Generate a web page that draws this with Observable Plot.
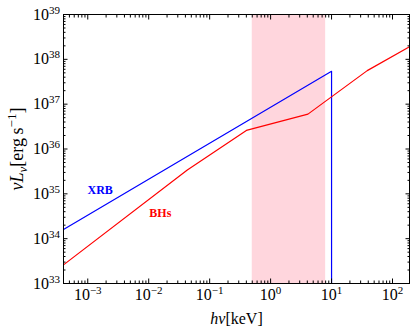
<!DOCTYPE html>
<html><head><meta charset="utf-8">
<script src="https://cdn.jsdelivr.net/npm/d3@7"></script>
<script src="https://cdn.jsdelivr.net/npm/@observablehq/plot@0.6"></script>
<style>
body{margin:0;background:#fff;}
#chart svg{display:block;}
</style></head><body><div id="chart"></div>
<script>
// ---- data ----
const xrbEnergy = [4e-4, 10, 10];
const xrbLum = [1.6e34, 5.4e37, 1e33];
const bhEnergy = [4e-4, 0.043, 0.40, 4.1, 38.5, 190];
const bhLum = [2.6e33, 3.4e35, 2.6e36, 6.0e36, 5.6e37, 1.9e38];
const bandEnergy = [0.5, 8];
const seriesNames = ["XRB", "BHs"];
const seriesColors = ["#0000ff", "#ff0000"];
const labelEnergy = [1.6e-3, 1.55e-2];
const labelLum = [1.2e35, 3.8e34];
const xDomain = [4e-4, 190];
const yDomain = [1e33, 1e39];
const xMajorTicks = [1e-3, 1e-2, 1e-1, 1, 10, 100];
const xTickBase = ["10", "10", "10", "10", "10", "10"];
const xTickExp = ["−3", "−2", "−1", "0", "1", "2"];
const yMajorTicks = [1e33, 1e34, 1e35, 1e36, 1e37, 1e38, 1e39];
const yTickBase = ["10", "10", "10", "10", "10", "10", "10"];
const yTickExp = ["33", "34", "35", "36", "37", "38", "39"];
const xLabel = "hν[keV]";
const yLabel = "νLν[erg s−1]";

// ---- tables built from the arrays ----
const xrb = xrbEnergy.map((e, i) => ({e, L: xrbLum[i]}));
const bh = bhEnergy.map((e, i) => ({e, L: bhLum[i]}));
const labels = seriesNames.map((name, i) => ({name, e: labelEnergy[i], L: labelLum[i], color: seriesColors[i]}));
const isPow = t => Math.abs(Math.log10(t) - Math.round(Math.log10(t))) < 1e-9;
const xMinor = d3.scaleLog().domain(xDomain).ticks().filter(t => !isPow(t));
const yMinor = d3.scaleLog().domain(yDomain).ticks().filter(t => !isPow(t));

const font = "'Liberation Serif', 'DejaVu Serif', serif";
const noText = () => "";

const chart = Plot.plot({
  width: 415,
  height: 333,
  marginLeft: 63,
  marginRight: 6,
  marginTop: 14,
  marginBottom: 50,
  style: {fontFamily: font, fontSize: "16px", background: "#fff", color: "#000"},
  x: {type: "log", domain: xDomain, label: null},
  y: {type: "log", domain: yDomain, label: null},
  marks: [
    Plot.rect([bandEnergy], {x1: d => d[0], x2: d => d[1], fill: "pink", fillOpacity: 0.65}),
    Plot.line(xrb, {x: "e", y: "L", stroke: seriesColors[0], strokeWidth: 1.2}),
    Plot.line(bh, {x: "e", y: "L", stroke: seriesColors[1], strokeWidth: 1.2}),
    Plot.text(labels, {x: "e", y: "L", text: "name", fill: "color", fontWeight: "bold", fontSize: 12, fontFamily: font}),
    // axes: major ticks with labels
    Plot.axisX(xMajorTicks, {anchor: "bottom", tickSize: -4.5, tickPadding: 10, fontSize: 16, label: null,
      tickFormat: d => xTickBase[xMajorTicks.indexOf(d)] + "^" + xTickExp[xMajorTicks.indexOf(d)]}),
    Plot.axisX(xMinor, {anchor: "bottom", tickSize: -2.5, tickFormat: noText, label: null}),
    Plot.axisX(xMajorTicks, {anchor: "top", tickSize: -4.5, tickFormat: noText, label: null}),
    Plot.axisX(xMinor, {anchor: "top", tickSize: -2.5, tickFormat: noText, label: null}),
    Plot.axisY(yMajorTicks, {anchor: "left", tickSize: -4.5, tickPadding: 8, fontSize: 16, label: null,
      tickFormat: d => yTickBase[yMajorTicks.indexOf(d)] + "^" + yTickExp[yMajorTicks.indexOf(d)]}),
    Plot.axisY(yMinor, {anchor: "left", tickSize: -2.5, tickFormat: noText, label: null}),
    Plot.axisY(yMajorTicks, {anchor: "right", tickSize: -4.5, tickFormat: noText, label: null}),
    Plot.axisY(yMinor, {anchor: "right", tickSize: -2.5, tickFormat: noText, label: null}),
    // axis titles
    Plot.text([xLabel], {frameAnchor: "bottom", dy: 35, textAnchor: "middle", lineAnchor: "middle", text: d => d, fontSize: 16, fontFamily: font}),
    Plot.text([yLabel], {frameAnchor: "left", dx: -46, rotate: -90, textAnchor: "middle", lineAnchor: "middle", text: d => d, fontSize: 18, fontFamily: font}),
    Plot.frame({stroke: "#000", strokeWidth: 1})
  ]
});

// rich formatting of the texts (superscripts, italics) using baseline-shift
const svg = d3.select(chart);
svg.selectAll("text").each(function() {
  const s = this.textContent;
  const t = d3.select(this);
  if (s.includes("^")) {
    const [b, e] = s.split("^");
    t.text(null);
    t.append("tspan").text(b);
    t.append("tspan").attr("font-size", 11).attr("baseline-shift", 6.5).text(e);
  } else if (s === xLabel) {
    t.text(null);
    t.append("tspan").attr("font-style", "italic").text("hν");
    t.append("tspan").text("[keV]");
  } else if (s === yLabel) {
    t.text(null);
    t.append("tspan").attr("font-style", "italic").text("νL");
    t.append("tspan").attr("font-style", "italic").attr("font-size", 13).attr("baseline-shift", -4).text("ν");
    t.append("tspan").text("[erg\u2009s");
    t.append("tspan").attr("font-size", 13).attr("baseline-shift", 7).text("−1");
    t.append("tspan").text("]");
  }
});

document.getElementById("chart").appendChild(chart);
</script>
</body></html>
